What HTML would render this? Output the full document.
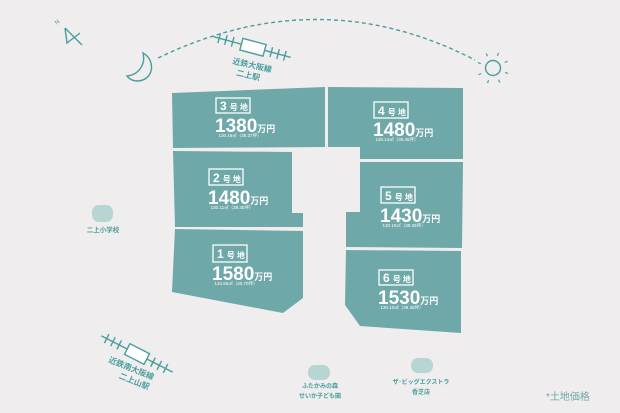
<!DOCTYPE html>
<html><head><meta charset="utf-8"><style>
html,body{margin:0;padding:0;background:#efeded;}
svg{display:block;}
text{font-family:"Liberation Sans","Noto Sans CJK JP",sans-serif;}
</style></head><body>
<svg width="620" height="413" viewBox="0 0 620 413" xmlns="http://www.w3.org/2000/svg">
<rect width="620" height="413" fill="#efeded"/>
<g fill="#6fa8a8">
<polygon points="172,93 325,87 325,147 173,148"/>
<polygon points="173,151 292,152 292,213 303,213 303,227 175,227"/>
<polygon points="175,229 303,231 303,298 283,313 172,292"/>
<polygon points="328,87 463,88 463,159 360,159 360,147 328,147"/>
<polygon points="360,162 463,162 462,248 346,247 346,212 360,212"/>
<polygon points="346,250 461,251 461,333 360,326 345,305"/>
</g>
<g fill="none" stroke="#fff" stroke-width="1.3">
<rect x="216" y="98" width="34" height="15"/>
<rect x="374" y="102" width="34" height="16"/>
<rect x="209" y="169" width="34" height="16"/>
<rect x="381" y="187" width="34" height="16"/>
<rect x="213" y="245" width="34" height="17"/>
<rect x="379" y="270" width="34" height="15"/>
</g>
<g fill="#fff" font-weight="bold">
<text x="220" y="110" font-size="12">3<tspan font-size="8" dx="3">号 地</tspan></text>
<text x="378" y="115" font-size="12">4<tspan font-size="8" dx="3">号 地</tspan></text>
<text x="213" y="182" font-size="12">2<tspan font-size="8" dx="3">号 地</tspan></text>
<text x="385" y="200" font-size="12">5<tspan font-size="8" dx="3">号 地</tspan></text>
<text x="217" y="258" font-size="12">1<tspan font-size="8" dx="3">号 地</tspan></text>
<text x="383" y="282" font-size="12">6<tspan font-size="8" dx="3">号 地</tspan></text>
<text x="215" y="132" font-size="19">1380<tspan font-size="9">万円</tspan></text>
<text x="373" y="136" font-size="19">1480<tspan font-size="9">万円</tspan></text>
<text x="208" y="204" font-size="19">1480<tspan font-size="9">万円</tspan></text>
<text x="380" y="222" font-size="19">1430<tspan font-size="9">万円</tspan></text>
<text x="212" y="280" font-size="19">1580<tspan font-size="9">万円</tspan></text>
<text x="378" y="304" font-size="19">1530<tspan font-size="9">万円</tspan></text>
</g>
<g fill="#fff" font-size="4.5" text-anchor="middle">
<text x="240" y="137">130.16㎡（39.37坪）</text>
<text x="397" y="141">130.14㎡（39.36坪）</text>
<text x="232" y="209">130.11㎡（39.35坪）</text>
<text x="404" y="227">130.10㎡（39.35坪）</text>
<text x="236" y="285">134.55㎡（40.70坪）</text>
<text x="402" y="309">130.10㎡（39.35坪）</text>
</g>
<g fill="none" stroke="#4a9e9e" stroke-width="1.4">
<path d="M158,58 Q320,-20 475,60" stroke-dasharray="4,3"/>
<path d="M143,53 C156,60 154,80 138,81 C133,81 129,79 127,76 C138,75 146,65 143,53 Z"/>
<circle cx="493" cy="68" r="7.5"/>
<g stroke-width="1.2">
<line x1="493" y1="55" x2="493" y2="52" transform="rotate(20 493 68)"/>
<line x1="493" y1="55" x2="493" y2="52" transform="rotate(65 493 68)"/>
<line x1="493" y1="55" x2="493" y2="52" transform="rotate(110 493 68)"/>
<line x1="493" y1="55" x2="493" y2="52" transform="rotate(155 493 68)"/>
<line x1="493" y1="55" x2="493" y2="52" transform="rotate(200 493 68)"/>
<line x1="493" y1="55" x2="493" y2="52" transform="rotate(245 493 68)"/>
<line x1="493" y1="55" x2="493" y2="52" transform="rotate(290 493 68)"/>
<line x1="493" y1="55" x2="493" y2="52" transform="rotate(335 493 68)"/>
</g>
<path d="M65,28 L67,43 L80,33 M65,28 L82,45"/>
<g transform="rotate(15 252 47)">
<line x1="212" y1="47" x2="292" y2="47"/>
<rect x="241" y="41" width="24" height="12" fill="#fff"/>
<path d="M218,42v10M225,42v10M232,42v10M272,42v10M279,42v10M286,42v10"/>
</g>
<g transform="rotate(27 137 354)">
<line x1="97" y1="354" x2="177" y2="354"/>
<rect x="126" y="348" width="22" height="12" fill="#fff"/>
<path d="M103,349v10M110,349v10M117,349v10M155,349v10M162,349v10M169,349v10"/>
</g>
</g>
<text x="55" y="24" font-size="6" fill="#4a9e9e" transform="rotate(-40 57 22)">N</text>
<g fill="#4a9e9e" font-size="8" text-anchor="middle" font-weight="bold">
<text x="252" y="68" transform="rotate(13 252 66)">近鉄大阪線</text>
<text x="248" y="78" transform="rotate(13 248 76)">二上駅</text>
<text x="131" y="371" transform="rotate(22 131 369)">近鉄南大阪線</text>
<text x="134" y="384" transform="rotate(22 134 382)">二上山駅</text>
<text x="103" y="232" font-size="6.5">二上小学校</text>
<text x="320" y="388" font-size="6">ふたかみの森</text>
<text x="320" y="398" font-size="6">せいか子ども園</text>
<text x="421" y="384" font-size="6">ザ･ビッグエクストラ</text>
<text x="421" y="394" font-size="6">香芝店</text>
</g>
<g fill="#b7d6d3">
<rect x="92" y="205" width="21" height="17" rx="7"/>
<rect x="308" y="365" width="22" height="15" rx="7"/>
<rect x="411" y="358" width="22" height="15" rx="7"/>
</g>
<text x="546" y="400" font-size="10" fill="#6fa8a8">*土地価格</text>
</svg>
</body></html>
